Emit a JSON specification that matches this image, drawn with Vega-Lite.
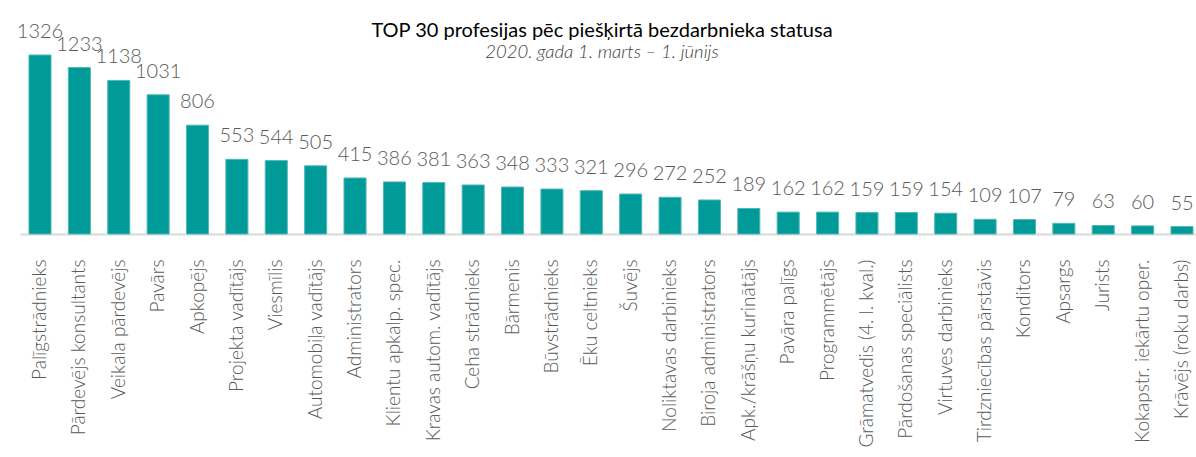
{
  "$schema": "https://vega.github.io/schema/vega-lite/v6.json",
  "autosize": {"type": "none"},
  "padding": {"left": 20, "top": 55, "right": 0, "bottom": 223},
  "width": 1176,
  "height": 179,
  "background": "white",
  "config": {"view": {"stroke": null}, "font": "Lato"},
  "title": {
    "text": "TOP 30 profesijas pēc piešķirtā bezdarbnieka statusa",
    "subtitle": "2020. gada 1. marts – 1. jūnijs",
    "anchor": "middle",
    "dx": -6,
    "dy": 41,
    "offset": 2,
    "font": "Lato",
    "fontSize": 20,
    "fontWeight": "normal",
    "color": "#000000",
    "subtitleFont": "Lato",
    "subtitleFontSize": 18.5,
    "subtitleFontStyle": "italic",
    "subtitleFontWeight": 300,
    "subtitleColor": "#404040",
    "subtitlePadding": 2
  },
  "data": {
    "values": [
      {"profesija": "Palīgstrādnieks", "skaits": 1326},
      {"profesija": "Pārdevējs konsultants", "skaits": 1233},
      {"profesija": "Veikala pārdevējs", "skaits": 1138},
      {"profesija": "Pavārs", "skaits": 1031},
      {"profesija": "Apkopējs", "skaits": 806},
      {"profesija": "Projekta vadītājs", "skaits": 553},
      {"profesija": "Viesmīlis", "skaits": 544},
      {"profesija": "Automobiļa vadītājs", "skaits": 505},
      {"profesija": "Administrators", "skaits": 415},
      {"profesija": "Klientu apkalp. spec.", "skaits": 386},
      {"profesija": "Kravas autom. vadītājs", "skaits": 381},
      {"profesija": "Ceha strādnieks", "skaits": 363},
      {"profesija": "Bārmenis", "skaits": 348},
      {"profesija": "Būvstrādnieks", "skaits": 333},
      {"profesija": "Ēku celtnieks", "skaits": 321},
      {"profesija": "Šuvējs", "skaits": 296},
      {"profesija": "Noliktavas darbinieks", "skaits": 272},
      {"profesija": "Biroja administrators", "skaits": 252},
      {"profesija": "Apk./krāšņu kurinātājs", "skaits": 189},
      {"profesija": "Pavāra palīgs", "skaits": 162},
      {"profesija": "Programmētājs", "skaits": 162},
      {"profesija": "Grāmatvedis (4. l. kval.)", "skaits": 159},
      {"profesija": "Pārdošanas speciālists", "skaits": 159},
      {"profesija": "Virtuves darbinieks", "skaits": 154},
      {"profesija": "Tirdzniecības pārstāvis", "skaits": 109},
      {"profesija": "Konditors", "skaits": 107},
      {"profesija": "Apsargs", "skaits": 79},
      {"profesija": "Jurists", "skaits": 63},
      {"profesija": "Kokapstr. iekārtu oper.", "skaits": 60},
      {"profesija": "Krāvējs (roku darbs)", "skaits": 55}
    ]
  },
  "encoding": {
    "x": {
      "field": "profesija",
      "type": "nominal",
      "sort": null,
      "scale": {"paddingInner": 0.44, "paddingOuter": 0.152, "align": 0.75},
      "axis": {
        "title": null,
        "labelAngle": -90,
        "labelAlign": "right",
        "labelBaseline": "middle",
        "labelPadding": 25,
        "tickSize": 0,
        "labelFont": "Lato",
        "labelFontSize": 19,
        "labelFontWeight": 300,
        "labelColor": "#595959",
        "labelLimit": 300,
        "ticks": false,
        "domainColor": "#d9d9d9",
        "domainWidth": 2
      }
    },
    "y": {
      "field": "skaits",
      "type": "quantitative",
      "scale": {"domain": [0, 1326], "nice": false},
      "axis": null
    }
  },
  "layer": [
    {
      "mark": {"type": "bar", "color": "#009b98", "stroke": "#4fb9b6", "strokeWidth": 1}
    },
    {
      "mark": {
        "type": "text",
        "baseline": "alphabetic",
        "dy": -17,
        "font": "Lato",
        "fontSize": 20,
        "fontWeight": 300,
        "color": "#595959"
      },
      "encoding": {"text": {"field": "skaits", "type": "quantitative"}}
    }
  ]
}
